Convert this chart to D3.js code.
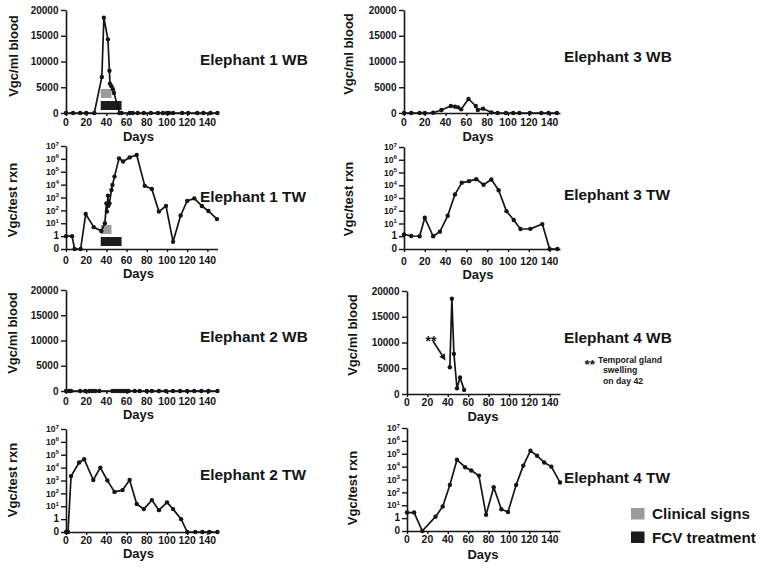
<!DOCTYPE html>
<html><head><meta charset="utf-8">
<script src="https://cdn.jsdelivr.net/npm/d3@7"></script>
<style>
body{margin:0;background:#fff;}
svg{display:block;font-family:"Liberation Sans",Arial,Helvetica,sans-serif;font-weight:bold;}
</style></head><body>
<script>
// ---------- data ----------
const dayTicks = [0,20,40,60,80,100,120,140];
const wbTicks = [0,5000,10000,15000,20000];
const twTicks = [0.1,1,10,100,1e3,1e4,1e5,1e6,1e7];
const twTickLabels = ["0","1","10|1","10|2","10|3","10|4","10|5","10|6","10|7"];

const e1wbDays = [0,7,14,20,28,35.5,37.5,41.5,43,43.5,45,46.5,47.5,51.5,53,55,63,66,71,77,84,91,96,100,102,106,115,121,130,136,143,150];
const e1wbVals = [0,0,0,0,0,7000,18500,14300,8200,5700,5200,4600,3900,1000,0,0,0,0,0,0,0,0,0,0,0,0,0,0,0,0,0,0];

const e1twDays = [0,6,8.5,14.5,19.5,27.5,35,38.5,40,40.5,41.5,42,43,45,46,48,52.5,56.5,63,70,78,85,92,99,106,113.5,120,127,134.5,141,149.5];
const e1twVals = [1,1,0,0,52,5,2.5,10,350,80,1400,230,350,3800,9300,42000,1.1e6,6.3e5,1.3e6,2e6,8000,4600,80,220,0.36,40,540,850,220,90,21];

const e2wbDays = [0,3,5,14,19,23,26,29,33,46,49,52,54,57,60,62,68,73,80,85,92,99,106,113,120,127,134,141,150];
const e2wbVals = e2wbDays.map(() => 0);

const e2twDays = [0,2,5,13,18,27,34,41,48,56,63,70,77,85,92,100,106,114,120,128,135,142,150];
const e2twVals = [0,0,2200,25000,45000,1100,10000,1000,130,180,1100,15,6,30,5,20,6,1,0,0,0,0,0];

const e3wbDays = [0,7,15,20,28,36,45,49,52,55,62,69,71,76,84,90,98,105,111,121,132,139,147];
const e3wbVals = [0,0,0,0,50,580,1360,1230,1100,710,2720,1360,580,840,130,0,0,0,0,0,0,0,0];

const e3twDays = [0,7,15,20,28,34.5,42,49,55.5,62.5,69.5,76.5,84,91,98.5,105.5,112,121.5,133,140,147.5];
const e3twVals = [1.4,1.05,1,28,1,2.3,40,1900,15500,21000,30000,11000,28000,4000,93,19,3.7,3.8,9,0,0];

const e4wbDays = [42,44,46,49,52,56];
const e4wbVals = [5200,18500,7800,1100,3200,800];

const e4twDays = [0,7,15,28,35,42,49,57,63,70.5,77.5,85,92.5,99,107,114,121,127.5,134.5,141.5,150];
const e4twVals = [2.7,2.7,0,1.3,8,380,34000,9000,5000,2000,1.8,250,4.9,3,380,12000,170000,69000,21000,10000,590];

const clinicalDays = [34.4, 45];
const fcvDays = [34.4, 55];

const legendLabels = ["Clinical signs","FCV treatment"];
const noteLines = ["Temporal gland","swelling","on day 42"];

// ---------- layout ----------
const panels = [
 {t:"wb", d:e1wbDays, v:e1wbVals, x0:66, x1:217.5, yT:10,  yB:113, title:"Elephant 1 WB", tx:200, ty:65,  lx:13,  ly:56,  tOff:13,   dY:137.5, dX:138.5, bars:true},
 {t:"tw", d:e1twDays, v:e1twVals, x0:66, x1:217.5, yT:146, yB:249, title:"Elephant 1 TW", tx:200, ty:202, lx:12,  ly:200, tOff:14.5, dY:277, dX:138.5, bars:true},
 {t:"wb", d:e2wbDays, v:e2wbVals, x0:66, x1:217.5, yT:290, yB:391, title:"Elephant 2 WB", tx:200, ty:342, lx:12,  ly:333, tOff:13.5, dY:418, dX:138.5},
 {t:"tw", d:e2twDays, v:e2twVals, x0:66, x1:217.5, yT:429, yB:532, title:"Elephant 2 TW", tx:200, ty:480, lx:12,  ly:480, tOff:11.5, dY:556, dX:138.5},
 {t:"wb", d:e3wbDays, v:e3wbVals, x0:404, x1:560, yT:10,  yB:113, title:"Elephant 3 WB", tx:564, ty:62,  lx:348, ly:54,  tOff:13,   dY:138.5, dX:478},
 {t:"tw", d:e3twDays, v:e3twVals, x0:404, x1:560, yT:147, yB:249, title:"Elephant 3 TW", tx:564, ty:200, lx:348, ly:199, tOff:15.5, dY:277.5, dX:478},
 {t:"wb", d:e4wbDays, v:e4wbVals, x0:407, x1:560, yT:291, yB:394, title:"Elephant 4 WB", tx:564, ty:343, lx:352, ly:335, tOff:12,   dY:418.5, dX:483, note:true},
 {t:"tw", d:e4twDays, v:e4twVals, x0:407, x1:560, yT:428, yB:531, title:"Elephant 4 TW", tx:564, ty:483, lx:352, ly:488, tOff:11.5, dY:559, dX:483}
];

const INK = "#151515", GREY = "#9b9b9b", DARK = "#1c1c1c";
const TICK_FS = 10.4, DAYS_FS = 13;
const svg = d3.select("body").append("svg").attr("width",762).attr("height",568);

panels.forEach(p => {
  const g = svg.append("g");
  const x = d3.scaleLinear().domain([0,150]).range([p.x0, p.x1]);
  const isTW = p.t === "tw";
  const y = isTW ? d3.scaleLog().domain([0.1,1e7]).range([p.yB,p.yT])
                 : d3.scaleLinear().domain([0,20000]).range([p.yB,p.yT]);
  const yv = v => isTW ? y(Math.max(v,0.1)) : y(v);

  // treatment bars (behind data)
  if (p.bars) {
    g.append("rect").attr("x", x(clinicalDays[0])).attr("width", x(clinicalDays[1]) - x(clinicalDays[0]))
      .attr("y", p.yB - 24).attr("height", 9).attr("fill", GREY);
    g.append("rect").attr("x", x(fcvDays[0])).attr("width", x(fcvDays[1]) - x(fcvDays[0]))
      .attr("y", p.yB - 12).attr("height", 9).attr("fill", DARK);
  }

  // x axis
  const xa = g.append("g").attr("transform", `translate(0,${p.yB})`)
    .call(d3.axisBottom(x).tickValues(dayTicks).tickSize(3).tickSizeOuter(0).tickFormat(""));
  xa.select(".domain").attr("stroke", INK).attr("stroke-width", 1.6);
  xa.selectAll(".tick line").attr("stroke", INK).attr("stroke-width", 1.4);
  const tickBase = p.yB + p.tOff;
  g.selectAll(null).data(dayTicks).enter().append("text")
    .attr("x", d => x(d)).attr("y", tickBase).attr("text-anchor","middle")
    .attr("font-size", TICK_FS).attr("fill", INK).text(d => d);

  // y axis
  const ya = g.append("g").attr("transform", `translate(${p.x0},0)`)
    .call(d3.axisLeft(y).tickValues(isTW ? twTicks : wbTicks).tickSize(5).tickSizeOuter(0).tickFormat(""));
  ya.select(".domain").attr("stroke", INK).attr("stroke-width", 1.6);
  ya.selectAll(".tick line").attr("stroke", INK).attr("stroke-width", 1.4);

  if (isTW) {
    twTicks.forEach((tv, i) => {
      const lab = twTickLabels[i].split("|");
      const t = g.append("text").attr("x", p.x0 - 7).attr("y", y(tv) + 3.2)
        .attr("text-anchor","end").attr("fill", INK);
      if (lab.length === 1) {
        t.attr("font-size", 10).text(lab[0]);
      } else {
        t.append("tspan").attr("font-size", 8.6).text(lab[0]);
        t.append("tspan").attr("font-size", 6.2).attr("dy", -3.6).text(lab[1]);
      }
    });
  } else {
    g.selectAll(null).data(wbTicks).enter().append("text")
      .attr("x", p.x0 - 7.5).attr("y", d => y(d) + 3.5).attr("text-anchor","end")
      .attr("font-size", 10).attr("fill", INK).text(d => d);
  }

  // y label
  g.append("text").attr("transform", `translate(${p.lx + 4.5},${p.ly}) rotate(-90)`)
    .attr("text-anchor","middle").attr("font-size", 13).attr("fill", INK)
    .text(isTW ? "Vgc/test rxn" : "Vgc/ml blood");

  // Days label (kept just clear of the tick labels)
  const minDays = tickBase + TICK_FS*0.22 + DAYS_FS*0.91 + 0.4;
  g.append("text").attr("x", p.dX).attr("y", Math.max(p.dY, minDays)).attr("text-anchor","middle")
    .attr("font-size", DAYS_FS).attr("fill", INK).text("Days");

  // title
  g.append("text").attr("x", p.tx).attr("y", p.ty).attr("font-size", 15.4)
    .attr("fill", INK).text(p.title);

  // data line + points
  const pts = p.d.map((d,i) => [d, p.v[i]]);
  g.append("path").datum(pts)
    .attr("d", d3.line().x(d => x(d[0])).y(d => yv(d[1])))
    .attr("fill","none").attr("stroke", INK).attr("stroke-width", 1.7).attr("stroke-linejoin","round");
  g.selectAll(null).data(pts).enter().append("circle")
    .attr("cx", d => x(d[0])).attr("cy", d => yv(d[1])).attr("r", 2.2).attr("fill", INK);

  if (p.note) {
    // arrow to day-42 point
    const ax1 = 433, ay1 = 341, ax2 = 445.5, ay2 = 360.5;
    const ang = Math.atan2(ay2 - ay1, ax2 - ax1);
    const hl = 6.5, hw = 3.2;
    const bx = ax2 - hl*Math.cos(ang), by = ay2 - hl*Math.sin(ang);
    g.append("line").attr("x1",ax1).attr("y1",ay1).attr("x2",bx).attr("y2",by)
      .attr("stroke", INK).attr("stroke-width", 1.6);
    g.append("path").attr("d", `M${ax2},${ay2}L${bx + hw*Math.sin(ang)},${by - hw*Math.cos(ang)}L${bx - hw*Math.sin(ang)},${by + hw*Math.cos(ang)}Z`)
      .attr("fill", INK);
    g.append("text").attr("x", 425.5).attr("y", 345.5).attr("font-size", 14).attr("fill", INK).text("**");
    g.append("text").attr("x", 584.5).attr("y", 368.5).attr("font-size", 13.5).attr("fill", INK).text("**");
    noteLines.forEach((s, i) => {
      g.append("text").attr("x", i === 0 ? 598 : 603).attr("y", 363 + i*10.4)
        .attr("font-size", 8.7).attr("fill", INK).text(s);
    });
  }
});

// legend
const lg = svg.append("g");
[GREY, DARK].forEach((c, i) => {
  lg.append("rect").attr("x", 631).attr("y", 508 + i*23.5).attr("width", 13.5).attr("height", 11.5).attr("fill", c);
  lg.append("text").attr("x", 652).attr("y", 518.5 + i*24).attr("font-size", 15.2).attr("fill", INK).text(legendLabels[i]);
});
</script>
</body></html>
